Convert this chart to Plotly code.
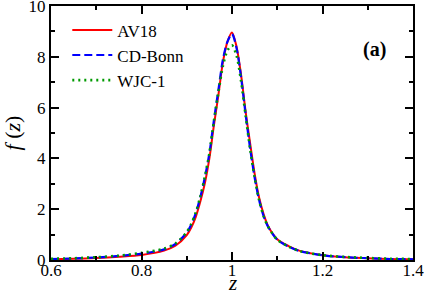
import plotly.graph_objects as go

z = [0.60, 0.65, 0.70, 0.75, 0.80, 0.85, 0.875, 0.90, 0.91, 0.92, 0.93, 0.94, 0.95,
     0.96, 0.97, 0.98, 0.99, 1.00, 1.01, 1.02, 1.03, 1.04, 1.05, 1.06, 1.07, 1.08,
     1.10, 1.125, 1.15, 1.20, 1.25, 1.30, 1.35, 1.40]

av18 = [0.03, 0.05, 0.08, 0.13, 0.20, 0.37, 0.56, 0.98, 1.28, 1.70, 2.30, 3.02, 4.00,
        5.30, 6.50, 7.80, 8.60, 8.96, 8.40, 7.30, 5.85, 4.60, 3.40, 2.45, 1.80, 1.33,
        0.82, 0.55, 0.36, 0.19, 0.11, 0.07, 0.04, 0.03]

cdbonn = [0.04, 0.06, 0.10, 0.16, 0.25, 0.42, 0.63, 1.08, 1.40, 1.85, 2.48, 3.25, 4.20,
          5.50, 6.70, 7.90, 8.60, 8.90, 8.35, 7.20, 5.75, 4.40, 3.25, 2.35, 1.72, 1.30,
          0.80, 0.53, 0.35, 0.19, 0.11, 0.07, 0.04, 0.03]

wjc1 = [0.05, 0.07, 0.11, 0.17, 0.28, 0.45, 0.65, 1.10, 1.42, 1.87, 2.50, 3.27, 4.20,
        5.45, 6.60, 7.65, 8.25, 8.45, 8.05, 7.05, 5.70, 4.38, 3.25, 2.35, 1.72, 1.30,
        0.80, 0.53, 0.35, 0.19, 0.12, 0.08, 0.05, 0.04]

x_ticks = [0.6, 0.8, 1.0, 1.2, 1.4]
x_ticklabels = ["0.6", "0.8", "1", "1.2", "1.4"]
y_ticks = [0, 2, 4, 6, 8, 10]
y_ticklabels = ["0", "2", "4", "6", "8", "10"]

FONT = "'Liberation Serif', 'Times New Roman', 'DejaVu Serif', serif"

fig = go.Figure()
fig.add_trace(go.Scatter(x=z, y=av18, mode="lines", name="AV18",
                         line=dict(color="#ff0000", width=2, shape="spline", smoothing=0.8)))
fig.add_trace(go.Scatter(x=z, y=cdbonn, mode="lines", name="CD-Bonn",
                         line=dict(color="#0000ff", width=2.2, dash="8px,4px", shape="spline", smoothing=0.8)))
fig.add_trace(go.Scatter(x=z, y=wjc1, mode="lines", name="WJC-1",
                         line=dict(color="#009a00", width=2.6, dash="2px,4px", shape="spline", smoothing=0.8)))

axis_common = dict(
    showline=True, linecolor="black", linewidth=2, mirror="allticks",
    ticks="inside", ticklen=8, tickwidth=1.5, tickcolor="black",
    showgrid=False, zeroline=False, automargin=False,
    ticklabeloverflow="allow",
    tickfont=dict(family=FONT, size=17, color="black"),
)

fig.update_xaxes(range=[0.6, 1.4], tickvals=x_ticks, ticktext=x_ticklabels,
                 minor=dict(ticks="inside", ticklen=4, tickwidth=1.5, dtick=0.1, tickcolor="black"),
                 ticklabelstandoff=-6,
                 **axis_common)
fig.update_yaxes(range=[0, 10], tickvals=y_ticks, ticktext=y_ticklabels,
                 minor=dict(ticks="inside", ticklen=4, tickwidth=1.5, dtick=1, tickcolor="black"),
                 title=dict(text="<i>f</i> (<i>z</i>)", font=dict(family=FONT, size=22, color="black"), standoff=7),
                 **axis_common)

# x-axis title
fig.add_annotation(x=0.5, y=-0.1457, xref="paper", yref="paper", text="<i>z</i>",
                   xanchor="center", yanchor="bottom",
                   showarrow=False, font=dict(family=FONT, size=21, color="black"))

fig.add_annotation(x=0.895, y=0.827, xref="paper", yref="paper", text="<b>(a)</b>",
                   xanchor="center", yanchor="middle",
                   showarrow=False, font=dict(family=FONT, size=20, color="black"))

fig.update_layout(
    width=425, height=297,
    margin=dict(l=51, r=12, t=6, b=37),
    paper_bgcolor="white", plot_bgcolor="white",
    font=dict(family=FONT, color="black"),
    showlegend=True,
    legend=dict(x=0.045, y=0.975, xanchor="left", yanchor="top",
                bgcolor="rgba(0,0,0,0)", font=dict(family=FONT, size=17, color="black"),
                tracegroupgap=0, itemwidth=40),
)

fig.write_html("out.html", config={"displayModeBar": False},
               post_script="document.body.style.margin='0';document.body.style.padding='0';")
